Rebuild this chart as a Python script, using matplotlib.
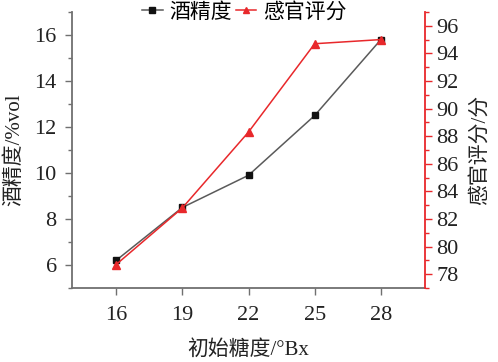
import matplotlib
matplotlib.use("Agg")
import matplotlib.pyplot as plt
from matplotlib.ticker import MultipleLocator

plt.rcParams['font.family'] = ['Liberation Serif', 'Noto Sans CJK SC', 'DejaVu Sans']

sugar = [16, 19, 22, 25, 28]
alcohol = [6.2, 8.5, 9.9, 12.5, 15.8]
sensory = [78.7, 82.8, 88.3, 94.7, 95.0]

x_label = "初始糖度/°Bx"
y1_label = "酒精度/%vol"
y2_label = "感官评分/分"
name1 = "酒精度"
name2 = "感官评分"

red = '#e8282b'
gray = '#5a5a5a'

fig = plt.figure(figsize=(4.98, 3.62), dpi=100)
ax = fig.add_axes([0.1446, 0.2044, 0.7088, 0.7625])
ax2 = ax.twinx()

l1, = ax.plot(sugar, alcohol, color=gray, lw=1.1, marker='s', ms=5,
              mfc='#111111', mec='#111111', label=name1)
l2, = ax2.plot(sugar, sensory, color=red, lw=1.1, marker='^', ms=5.5,
               mfc=red, mec=red, label=name2)

ax.set_xlim(14, 30)
ax.set_ylim(5, 17)
ax2.set_ylim(77, 97)
ax.set_xticks(sugar)
ax.set_yticks([6, 8, 10, 12, 14, 16])
ax.yaxis.set_minor_locator(MultipleLocator(1))
ax2.set_yticks(range(78, 97, 2))
ax2.yaxis.set_minor_locator(MultipleLocator(1))

for a in (ax, ax2):
    a.spines['top'].set_visible(False)
ax.spines['right'].set_visible(False)
for s in ('left', 'bottom'):
    ax.spines[s].set_color('#707070')
    ax.spines[s].set_linewidth(1.3)
ax2.spines['left'].set_visible(False)
ax2.spines['bottom'].set_visible(False)
ax2.spines['right'].set_color(red)
ax2.spines['right'].set_linewidth(1.3)

ax.tick_params(axis='both', which='major', direction='out', length=5, width=1,
               color='#707070', labelsize=16, labelcolor='#222222')
ax.tick_params(axis='x', which='major', pad=8)
ax.tick_params(axis='y', which='major', pad=6)
ax.tick_params(axis='y', which='minor', direction='out', length=3, width=1, color='#707070')
ax2.tick_params(axis='y', which='major', direction='out', length=5, width=1,
                color=red, labelsize=16, labelcolor='#222222', pad=3)
ax2.tick_params(axis='y', which='minor', direction='out', length=3, width=1, color=red)

ax.set_xlabel(x_label, fontsize=15, color='#222222', labelpad=11)
ax.set_ylabel(y1_label, fontsize=15, color='#222222', labelpad=7)
ax2.set_ylabel(y2_label, fontsize=15, color='#222222', labelpad=8)

fig.legend(handles=[l1, l2], loc='center', bbox_to_anchor=(0.49, 0.965),
           ncol=2, frameon=False, fontsize=15, handlelength=1.0,
           handletextpad=0.3, columnspacing=0.2, markerscale=0.8)

fig.savefig("out.png", dpi=100)
